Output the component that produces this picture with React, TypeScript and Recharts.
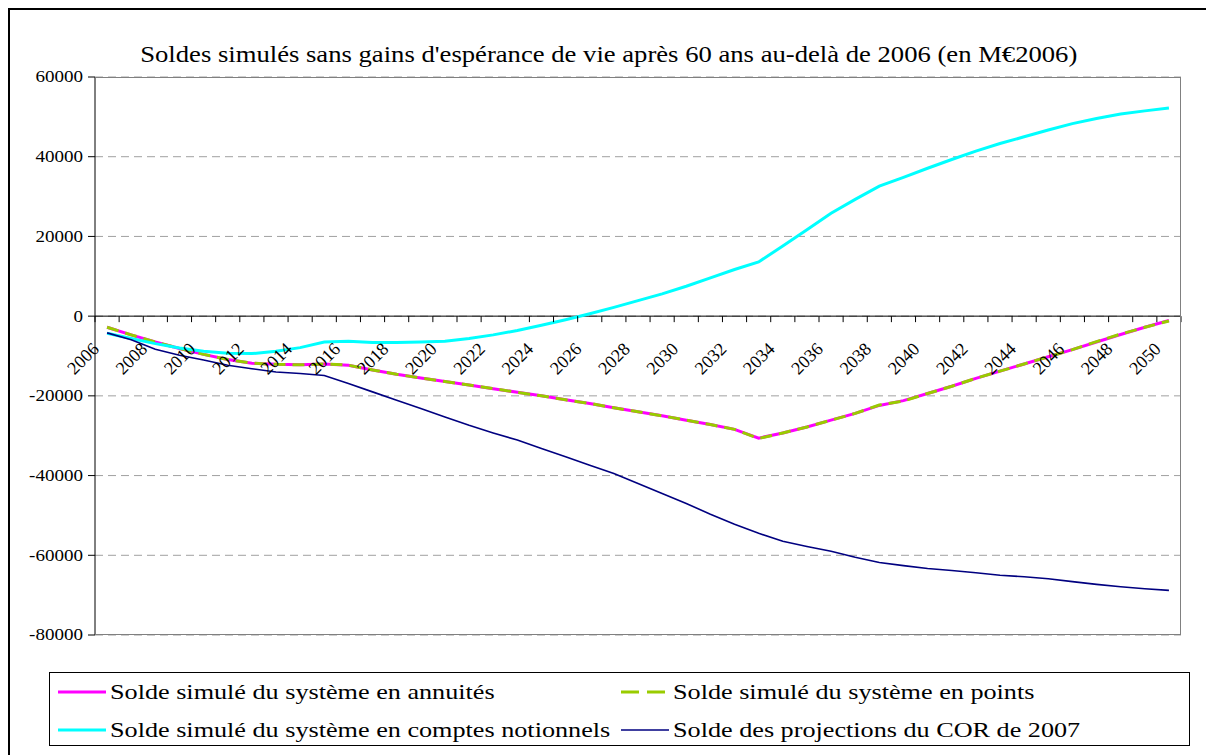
import { LineChart, Line, XAxis, YAxis, CartesianGrid, ReferenceLine, Legend } from 'recharts'

// years on the category axis
const YEARS = [
  '2006', '2007', '2008', '2009', '2010', '2011', '2012', '2013', '2014', '2015',
  '2016', '2017', '2018', '2019', '2020', '2021', '2022', '2023', '2024', '2025',
  '2026', '2027', '2028', '2029', '2030', '2031', '2032', '2033', '2034', '2035',
  '2036', '2037', '2038', '2039', '2040', '2041', '2042', '2043', '2044', '2045',
  '2046', '2047', '2048', '2049', '2050',
]

const ANNUITES = [
  -2800, -4700, -6500, -8100, -9600, -10900, -11800, -12100, -12200, -12000,
  -12300, -13500, -14600, -15500, -16400, -17300, -18200, -19100, -20000, -21000,
  -21900, -23000, -24000, -25000, -26100, -27200, -28400, -30600, -29300, -27800,
  -26100, -24400, -22400, -21200, -19400, -17600, -15600, -13800, -12000, -10200,
  -8400, -6500, -4600, -2800, -1100,
]

const POINTS = [
  -2800, -4700, -6500, -8100, -9600, -10900, -11800, -12100, -12200, -12000,
  -12300, -13500, -14600, -15500, -16400, -17300, -18200, -19100, -20000, -21000,
  -21900, -23000, -24000, -25000, -26100, -27200, -28400, -30700, -29300, -27800,
  -26100, -24400, -22300, -21300, -19400, -17600, -15600, -13800, -12000, -10200,
  -8400, -6400, -4500, -2800, -1200,
]

const NOTIONNELS = [
  -4300, -5600, -6900, -8000, -8800, -9300, -9400, -8800, -7900, -6500,
  -6300, -6600, -6600, -6500, -6300, -5600, -4700, -3600, -2300, -900,
  600, 2200, 3900, 5600, 7500, 9600, 11700, 13600, 17600, 21700,
  25800, 29300, 32600, 34800, 37100, 39300, 41400, 43300, 45000, 46700,
  48300, 49600, 50700, 51500, 52200,
]

const COR_2007 = [
  -4200, -5900, -8300, -9800, -11000, -12300, -13200, -14000, -14400, -14900,
  -16900, -19000, -21100, -23200, -25300, -27400, -29300, -31100, -33200, -35300,
  -37400, -39500, -42000, -44500, -47000, -49700, -52200, -54500, -56500, -57800,
  -59000, -60500, -61800, -62600, -63300, -63800, -64400, -65000, -65400, -65900,
  -66600, -67300, -67900, -68400, -68800,
]

const Y_TICKS = [60000, 40000, 20000, 0, -20000, -40000, -60000, -80000]

const TITLE = "Soldes simulés sans gains d'espérance de vie après 60 ans au-delà de 2006 (en M€2006)"

const SERIES = [
  { key: 'annuites', name: 'Solde simulé du système en annuités', color: '#FF00FF', width: 3, dash: undefined, legendDash: undefined },
  { key: 'points', name: 'Solde simulé du système en points', color: '#99CC00', width: 3, dash: '12 7', legendDash: '18 8' },
  { key: 'notionnels', name: 'Solde simulé du système en comptes notionnels', color: '#00FFFF', width: 3, dash: undefined, legendDash: undefined },
  { key: 'cor', name: 'Solde des projections du COR de 2007', color: '#000080', width: 1.6, dash: undefined, legendDash: undefined },
]

const data = YEARS.map((year, i) => ({
  year,
  annuites: ANNUITES[i],
  points: POINTS[i],
  notionnels: NOTIONNELS[i],
  cor: COR_2007[i],
}))

// layout (the reference picture is stretched horizontally, so most text gets a scaleX)
const W = 1206
const H = 755
const PLOT_LEFT = 95
const PLOT_TOP = 77
const PLOT_RIGHT = 1181
const PLOT_BOTTOM = 635
const LEGEND_H = 74
const PLOT_W = PLOT_RIGHT - PLOT_LEFT
const PLOT_H = PLOT_BOTTOM - PLOT_TOP
const Y_MIN = -80000
const Y_MAX = 60000
const ZERO_Y = PLOT_TOP + (PLOT_H * Y_MAX) / (Y_MAX - Y_MIN)
const HALF_BAND = PLOT_W / YEARS.length / 2
const STRETCH = 1.19
const FONT = "'Liberation Serif', 'Times New Roman', serif"

function YearTick(props: any) {
  const { x, payload } = props
  const index = payload?.index ?? props.index ?? 0
  const last = index === YEARS.length - 1
  return (
    <g>
      <line x1={x - HALF_BAND} x2={x - HALF_BAND} y1={ZERO_Y} y2={ZERO_Y + 6} stroke="#000" />
      {last && <line x1={x + HALF_BAND} x2={x + HALF_BAND} y1={ZERO_Y} y2={ZERO_Y + 6} stroke="#000" />}
      {index % 2 === 0 && (
        <text
          transform={`translate(${x - 7},${ZERO_Y + 34}) rotate(-45)`}
          textAnchor="end"
          fontSize={18}
          fontFamily={FONT}
          fill="#000"
        >
          {payload.value}
        </text>
      )}
    </g>
  )
}

function ValueTick(props: any) {
  const { x, y, payload } = props
  return (
    <text
      transform={`translate(${x - 3},${y}) scale(${STRETCH},1)`}
      textAnchor="end"
      dominantBaseline="central"
      fontSize={16}
      fontFamily={FONT}
      fill="#000"
    >
      {payload.value}
    </text>
  )
}

function LegendBox() {
  return (
    <div
      style={{
        position: 'relative',
        width: 1141,
        height: LEGEND_H,
        border: '1px solid #000',
        boxSizing: 'border-box',
        background: '#fff',
        fontFamily: FONT,
      }}
    >
      {SERIES.map((s, i) => {
        const col = i % 2
        const row = Math.floor(i / 2)
        return (
          <div
            key={s.key}
            style={{
              position: 'absolute',
              left: col === 0 ? 8 : 571,
              top: row === 0 ? 19 : 57,
              height: 0,
              display: 'flex',
              alignItems: 'center',
            }}
          >
            <svg width={48} height={10} style={{ display: 'block' }}>
              <line x1={0} x2={48} y1={5} y2={5} stroke={s.color} strokeWidth={s.width} strokeDasharray={s.legendDash} />
            </svg>
            <span
              style={{
                display: 'inline-block',
                marginLeft: 4,
                fontSize: 22,
                whiteSpace: 'nowrap',
                transform: `scaleX(${STRETCH})`,
                transformOrigin: 'left center',
                lineHeight: 1,
              }}
            >
              {s.name}
            </span>
          </div>
        )
      })}
    </div>
  )
}

export default function App() {
  return (
    <div style={{ position: 'absolute', left: 0, top: 0, width: W, height: H, background: '#fff', overflow: 'hidden' }}>
      <div
        style={{
          position: 'absolute',
          left: 8,
          top: 8,
          width: W,
          height: H,
          borderLeft: '2px solid #000',
          borderTop: '2px solid #000',
        }}
      />
      <div
        style={{
          position: 'absolute',
          left: 0,
          width: 1218,
          top: 44,
          textAlign: 'center',
          fontFamily: FONT,
          fontSize: 22.4,
          lineHeight: 1,
          whiteSpace: 'nowrap',
        }}
      >
        <span style={{ display: 'inline-block', transform: `scaleX(${STRETCH})` }}>{TITLE}</span>
      </div>
      <LineChart
        width={W}
        height={H}
        data={data}
        margin={{ top: PLOT_TOP, right: W - PLOT_RIGHT, bottom: H - PLOT_BOTTOM - LEGEND_H - 1, left: 0 }}
        style={{ position: 'absolute', left: 0, top: 0 }}
      >
        <CartesianGrid vertical={false} stroke="#A0A0A0" strokeDasharray="8 5" />
        <XAxis
          dataKey="year"
          interval={0}
          height={1}
          axisLine={false}
          tickLine={false}
          padding={{ left: HALF_BAND, right: HALF_BAND }}
          tick={(p: any) => <YearTick {...p} />}
        />
        <YAxis
          width={PLOT_LEFT}
          domain={[Y_MIN, Y_MAX]}
          ticks={Y_TICKS}
          interval={0}
          allowDataOverflow
          axisLine={{ stroke: '#000' }}
          tickLine={{ stroke: '#000' }}
          tickSize={7}
          tick={(p: any) => <ValueTick {...p} />}
        />
        <ReferenceLine y={0} stroke="#000" />
        {SERIES.map((s) => (
          <Line
            key={s.key}
            type="linear"
            dataKey={s.key}
            name={s.name}
            stroke={s.color}
            strokeWidth={s.width}
            strokeDasharray={s.dash}
            dot={false}
            activeDot={false}
            isAnimationActive={false}
          />
        ))}
        <Legend
          content={() => <LegendBox />}
          wrapperStyle={{ position: 'absolute', left: 49, top: 672, width: 1141, height: LEGEND_H }}
        />
      </LineChart>
      <div
        style={{
          position: 'absolute',
          left: PLOT_LEFT,
          top: PLOT_TOP,
          width: PLOT_W,
          height: PLOT_H,
          borderTop: '1px solid #808080',
          borderRight: '1px solid #808080',
          borderBottom: '1px solid #808080',
          boxSizing: 'border-box',
          pointerEvents: 'none',
        }}
      />
    </div>
  )
}
